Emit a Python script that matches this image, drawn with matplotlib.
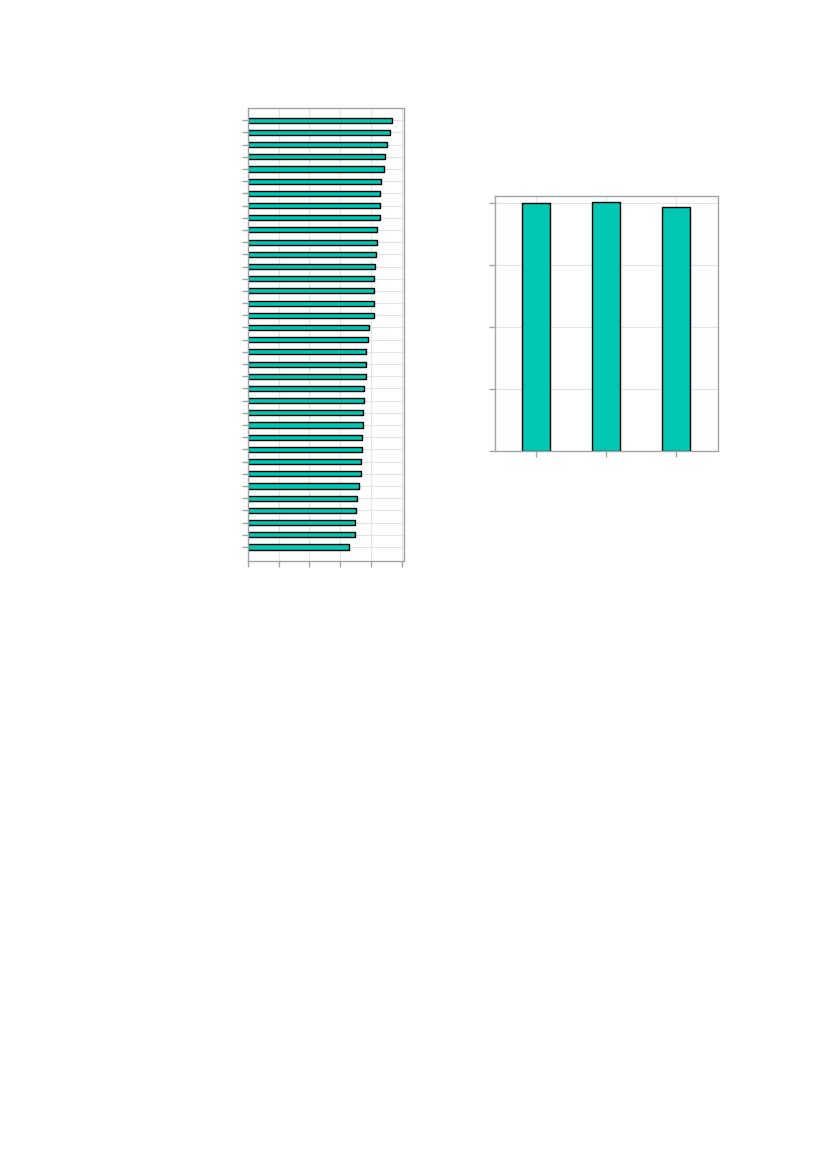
import numpy as np
import matplotlib
matplotlib.use('Agg')
import matplotlib.pyplot as plt

# left panel: 36 horizontal bars, top to bottom
left_vals = [4.69, 4.63, 4.53, 4.46, 4.43, 4.33, 4.30, 4.30, 4.30, 4.20,
             4.20, 4.17, 4.14, 4.10, 4.10, 4.10, 4.10, 3.94, 3.91, 3.84,
             3.84, 3.84, 3.78, 3.78, 3.75, 3.75, 3.71, 3.71, 3.68, 3.68,
             3.62, 3.55, 3.52, 3.49, 3.49, 3.29]
left_xticks = [0, 1, 2, 3, 4, 5]

# right panel: 3 vertical bars
right_vals = [4.00, 4.03, 3.94]
right_yticks = [0, 1, 2, 3, 4]

bar_color = '#00c8b4'
grid_color = '#e3e3e3'
spine_color = '#a0a4a8'

W, H = 827, 1169
fig = plt.figure(figsize=(W / 100, H / 100), dpi=100)


def style(ax):
    for s in ax.spines.values():
        s.set_color(spine_color)
        s.set_linewidth(1.0)
    ax.tick_params(colors=spine_color, length=4, width=1,
                   labelleft=False, labelbottom=False)
    ax.grid(True, color=grid_color, linewidth=0.8)
    ax.set_axisbelow(True)


# left axes: x 248..404, y 108..561 px
ax1 = fig.add_axes([248 / W, 1 - 561 / H, (404 - 248) / W, (561 - 108) / H])
pos = np.arange(len(left_vals))
ax1.barh(pos, left_vals, height=0.42, color=bar_color,
         edgecolor='black', linewidth=1.0)
ax1.set_yticks(pos)
ax1.set_xticks(left_xticks)
ax1.set_xlim(0, 5.08)
ax1.set_ylim(len(left_vals) - 1 + 1.15, -1.0)
style(ax1)

# right axes: x 495..718, y 196..451 px
ax2 = fig.add_axes([495 / W, 1 - 451 / H, (718 - 495) / W, (451 - 196) / H])
xpos = np.arange(len(right_vals))
ax2.bar(xpos, right_vals, width=0.4, color=bar_color,
        edgecolor='black', linewidth=1.0)
ax2.set_xticks(xpos)
ax2.set_yticks(right_yticks)
ax2.set_xlim(-0.59, 2.6)
ax2.set_ylim(0, 4.12)
style(ax2)

plt.savefig('out.png', dpi=100)
